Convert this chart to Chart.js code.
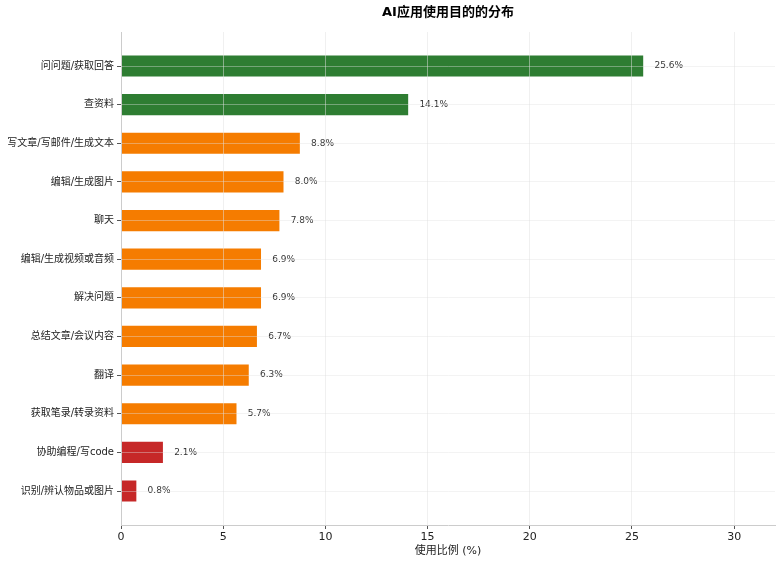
<!DOCTYPE html>
<html>
<head>
<meta charset="utf-8">
<script src="https://cdn.jsdelivr.net/npm/chart.js@4/dist/chart.umd.min.js"></script>
<style>
  html, body { margin: 0; padding: 0; background: #fff; }
  #wrap { width: 782px; height: 565px; }
</style>
</head>
<body>
<div id="wrap"><canvas id="c"></canvas></div>
<script>
// Categories top to bottom
const categories = [
    '问问题/获取回答', '查资料', '写文章/写邮件/生成文本', '编辑/生成图片', '聊天',
    '编辑/生成视频或音频', '解决问题', '总结文章/会议内容', '翻译', '获取笔录/转录资料',
    '协助编程/写code', '识别/辨认物品或图片'
];
const shares = [25.6, 14.1, 8.8, 8.0, 7.8, 6.9, 6.9, 6.7, 6.3, 5.7, 2.1, 0.8];
const groups = ['high', 'high', 'mid', 'mid', 'mid', 'mid', 'mid', 'mid', 'mid', 'mid', 'low', 'low'];
const xTicks = [0, 5, 10, 15, 20, 25, 30];

const groupColor = { high: '#2e7d32', mid: '#f57c00', low: '#c62828' };
const FONT = "'DejaVu Sans', 'Noto Sans CJK SC', sans-serif";

const points = shares.map((v, i) => ({ x: v, y: i }));

// value labels + title
const labelPlugin = {
    id: 'labels',
    afterDatasetsDraw(chart) {
        const ctx = chart.ctx;
        const xs = chart.scales.x, ys = chart.scales.y;
        ctx.save();
        ctx.font = '9px ' + FONT;
        ctx.fillStyle = '#333';
        ctx.textBaseline = 'middle';
        ctx.textAlign = 'left';
        shares.forEach((v, i) => {
            ctx.fillText(v.toFixed(1) + '%', xs.getPixelForValue(v + 0.5), ys.getPixelForValue(i));
        });
        ctx.restore();
    },
    afterDraw(chart) {
        const ctx = chart.ctx;
        const a = chart.chartArea;
        ctx.save();
        ctx.font = "bold 13px 'DejaVu Sans', 'Noto Sans CJK SC', sans-serif";
        ctx.fillStyle = '#000';
        ctx.textAlign = 'center';
        ctx.textBaseline = 'middle';
        ctx.fillText('AI应用使用目的的分布', (a.left + a.right) / 2, 13);
        ctx.restore();
    }
};

new Chart(document.getElementById('c'), {
    type: 'bar',
    data: {
        datasets: [{
            data: points,
            backgroundColor: groups.map(g => groupColor[g]),
            borderColor: 'rgba(255,255,255,0.6)',
            borderWidth: 1,
            categoryPercentage: 1,
            barPercentage: 0.6
        }]
    },
    options: {
        indexAxis: 'y',
        responsive: true,
        maintainAspectRatio: false,
        animation: false,
        layout: { padding: { top: 32, right: 7, left: 0, bottom: 7 } },
        plugins: {
            legend: { display: false },
            tooltip: { enabled: false }
        },
        scales: {
            x: {
                type: 'linear',
                min: 0,
                max: 32,
                afterBuildTicks: s => { s.ticks = xTicks.map(v => ({ value: v })); },
                afterFit: s => { s.height = 33; },
                grid: {
                    z: 1,
                    color: 'rgba(225,225,225,0.5)',
                    tickColor: '#555',
                    tickLength: 4
                },
                border: { color: '#ccc', z: 2 },
                ticks: { color: '#222', font: { family: FONT, size: 11 }, padding: 2 },
                title: {
                    display: true,
                    text: '使用比例 (%)',
                    color: '#222',
                    font: { family: FONT, size: 11 },
                    padding: { top: 0, bottom: 0 }
                }
            },
            y: {
                type: 'linear',
                min: -0.88,
                max: 11.88,
                reverse: true,
                offset: false,
                afterBuildTicks: s => { s.ticks = categories.map((c, i) => ({ value: i })); },
                afterFit: s => { s.width = 121; },
                grid: {
                    z: 1,
                    offset: false,
                    color: 'rgba(225,225,225,0.4)',
                    tickColor: '#555',
                    tickLength: 4
                },
                border: { color: '#ccc', z: 2 },
                ticks: {
                    color: '#222',
                    font: { family: FONT, size: 10 },
                    padding: 3,
                    callback: v => categories[v]
                }
            }
        }
    },
    plugins: [labelPlugin]
});
</script>
</body>
</html>
